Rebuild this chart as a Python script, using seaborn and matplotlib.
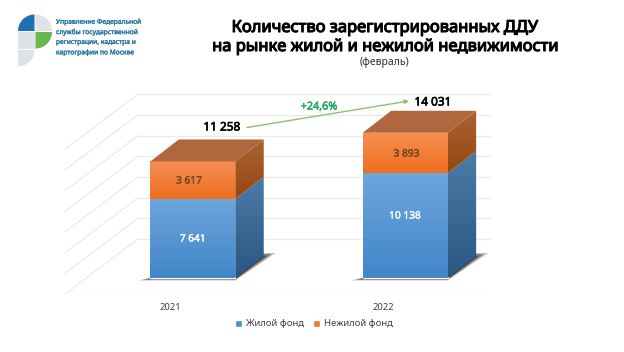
import matplotlib
matplotlib.use('Agg')
import matplotlib.pyplot as plt
import matplotlib.patheffects as pe
from matplotlib.colors import LinearSegmentedColormap
from matplotlib.patches import Polygon, Rectangle, Wedge
import numpy as np
import seaborn as sns

sns.set_theme(style='white')
plt.rcParams['font.family'] = ['Noto Sans', 'DejaVu Sans']

# Data
years = ['2021', '2022']
housing = [7641, 10138]
non_housing = [3617, 3893]
grid_values = [0, 2000, 4000, 6000, 8000, 10000, 12000, 14000]
growth_label = '+24,6%'


def fmt(v):
    return f'{v:,}'.replace(',', ' ')


def heavy(t, w=0.45):
    # the bold cut of the font is not available, thicken the outline instead
    t.set_path_effects([pe.withStroke(linewidth=w, foreground=t.get_color())])
    return t


def gradient(ax, pts, top_color, bottom_color, z):
    # vertical gradient clipped to a polygon
    pts = np.array(pts)
    cmap = LinearSegmentedColormap.from_list('g', [top_color, bottom_color])
    img = ax.imshow(np.linspace(0, 1, 128).reshape(-1, 1), cmap=cmap, aspect='auto', origin='upper',
                    extent=(pts[:, 0].min(), pts[:, 0].max(), pts[:, 1].min(), pts[:, 1].max()), zorder=z)
    clip = Polygon(pts, closed=True, transform=ax.transData, facecolor='none', edgecolor='none')
    ax.add_patch(clip)
    img.set_clip_path(clip)


fig = plt.figure(figsize=(6.24, 3.52), dpi=100, facecolor='white')
ax = fig.add_axes([0, 58 / 352, 1, 294 / 352])

sns.barplot(x=years, y=housing, color='#4F8FD0', width=0.4, saturation=1, ax=ax, label='Жилой фонд')
sns.barplot(x=years, y=non_housing, bottom=housing, color='#F27B2E', width=0.4, saturation=1, ax=ax,
            label='Нежилой фонд')

# depth of the bars and of the back wall, in axis units
dx, dy = 0.134, 2125
wall_x, front_x, right_x = -0.258, -0.601, 1.399
wall_y, floor_y = 3768, -1546

# back wall and side wall grid
for v in grid_values:
    ax.plot([wall_x, right_x], [v + wall_y, v + wall_y], color='#ebebeb', lw=0.9, zorder=1)
    ax.plot([front_x, wall_x], [v + floor_y, v + wall_y], color='#ebebeb', lw=0.9, zorder=1)
ax.plot([front_x, right_x], [floor_y, floor_y], color='#e6e6e6', lw=0.9, zorder=1)

n = len(years)
blue_bars = ax.patches[:n]
orange_bars = ax.patches[n:n * 2]
for b, o in zip(blue_bars, orange_bars):
    x0, w = b.get_x(), b.get_width()
    x1 = x0 + w
    y1 = b.get_height()
    y2 = y1 + o.get_height()
    b.set_zorder(4)
    o.set_zorder(4)

    # shadow on the floor
    ax.add_patch(Polygon([(x0 - 0.056, -240), (x1, -240), (x1 + 0.19, 2415), (x1 + 0.12, 2415)],
                         facecolor='#b0b0b0', edgecolor='none', alpha=0.8, zorder=2))
    ax.add_patch(Polygon([(x0 - 0.035, -170), (x1, -170), (x1 + 0.17, 2300), (x1 + 0.12, 2300)],
                         facecolor='#6e6e6e', edgecolor='none', alpha=0.85, zorder=2))
    ax.add_patch(Polygon([(x0 - 0.015, -110), (x1, -110), (x1 + 0.145, 2150), (x1 + 0.12, 2150)],
                         facecolor='#3c3c3c', edgecolor='none', alpha=0.9, zorder=2))

    gradient(ax, [(x0, 0), (x1, 0), (x1, y1), (x0, y1)], '#6ea6de', '#4286c8', 5)
    gradient(ax, [(x0, y1), (x1, y1), (x1, y2), (x0, y2)], '#f58f55', '#ee6f1e', 5)
    gradient(ax, [(x1, 0), (x1 + dx, dy), (x1 + dx, y1 + dy), (x1, y1)], '#4d7aa6', '#2a5684', 5)
    gradient(ax, [(x1, y1), (x1 + dx, y1 + dy), (x1 + dx, y2 + dy), (x1, y2)], '#ab6233', '#95480f', 5)
    ax.add_patch(Polygon([(x0, y2), (x1, y2), (x1 + dx, y2 + dy), (x0 + dx, y2 + dy)],
                         facecolor='#b1673d', edgecolor='none', zorder=5))

ax.set_xlim(-192.8 / 212.4, (624 - 192.8) / 212.4)
ax.set_ylim(floor_y, 278 / 0.01035)
ax.set_xticks([i - 0.104 for i in range(n)], years)
ax.tick_params(axis='x', length=0, pad=6.5, labelsize=6.8, labelcolor='#404040')
ax.set_yticks([])
ax.set_xlabel('')
ax.set_ylabel('')
sns.despine(ax=ax, left=True, bottom=True)
ax.patch.set_alpha(0)
ax.legend(loc='center', bbox_to_anchor=(0.503, (352 - 324 - 58) / 294), ncol=2, frameon=False, fontsize=6.8,
          handlelength=0.75, handleheight=0.75, handletextpad=0.35, columnspacing=1.0, labelcolor='#404040')

# pixel overlay for texts, arrow and logo
top = fig.add_axes([0, 0, 1, 1])
top.set_xlim(0, 624)
top.set_ylim(352, 0)
top.axis('off')
top.patch.set_alpha(0)

heavy(top.text(384, 28, 'Количество зарегистрированных ДДУ', ha='center', va='center', fontsize=11.9, color='black'), 0.8)
heavy(top.text(384, 47, 'на рынке жилой и нежилой недвижимости', ha='center', va='center', fontsize=11.9, color='black'), 0.8)
top.text(384, 62, '(февраль)', ha='center', va='center', fontsize=7.5, color='#303030')

top.annotate('', xy=(409, 101), xytext=(247, 127.5),
             arrowprops=dict(arrowstyle='-|>', color='#8dbf72', lw=1, mutation_scale=6, shrinkA=0, shrinkB=0))
heavy(top.text(319, 107, growth_label, ha='center', va='center', fontsize=7.8, color='#2ea96c'))

totals = [a + b for a, b in zip(housing, non_housing)]
heavy(top.text(222, 127, fmt(totals[0]), ha='center', va='center', fontsize=8.5, color='black'))
heavy(top.text(433, 102, fmt(totals[1]), ha='center', va='center', fontsize=8.5, color='black'))

heavy(top.text(192.7, 239, fmt(housing[0]), ha='center', va='center', fontsize=7.3, color='#f4f8fc', zorder=8), 0.35)
heavy(top.text(405, 216, fmt(housing[1]), ha='center', va='center', fontsize=7.3, color='#f4f8fc', zorder=8), 0.35)
heavy(top.text(189, 181, fmt(non_housing[0]), ha='center', va='center', fontsize=7.3, color='#7a4722', zorder=8), 0.35)
heavy(top.text(406.5, 154, fmt(non_housing[1]), ha='center', va='center', fontsize=7.3, color='#7a4722', zorder=8), 0.35)

# logo
top.add_patch(Wedge((34.5, 31), 16.5, 180, 270, facecolor='#1f6fb2', edgecolor='none'))
top.add_patch(Wedge((35.5, 31), 16.5, 270, 360, facecolor='#dfe3e6', edgecolor='none'))
top.add_patch(Rectangle((18, 32), 16.5, 16.5, facecolor='#dfe3e6', edgecolor='none'))
top.add_patch(Wedge((35.5, 32), 16.5, 0, 90, facecolor='#6cb64f', edgecolor='none'))
top.add_patch(Wedge((18, 50), 16.5, 0, 90, facecolor='#dfe3e6', edgecolor='none'))

logo_lines = ['Управление Федеральной', 'службы государственной', 'регистрации, кадастра и', 'картографии по Москве']
for i, line in enumerate(logo_lines):
    heavy(top.text(56, 22 + i * 10.2, line, ha='left', va='center', fontsize=4.8, color='#2a7ca8'), 0.25)

plt.savefig('out.png', dpi=100)
